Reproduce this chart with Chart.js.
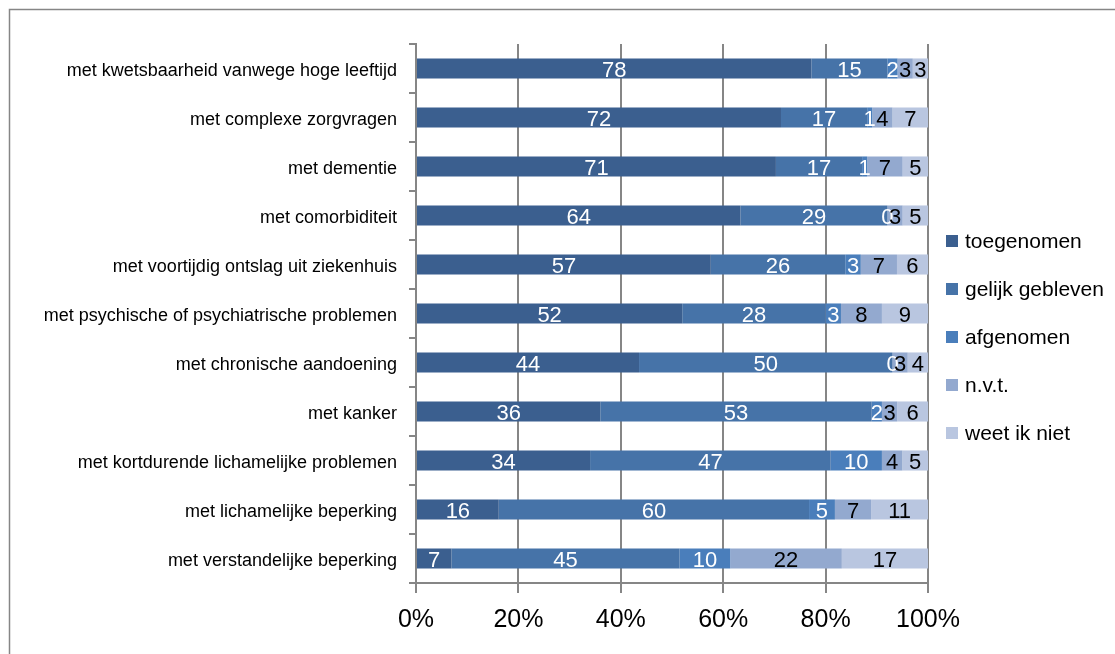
<!DOCTYPE html>
<html>
<head>
<meta charset="utf-8">
<script src="https://cdn.jsdelivr.net/npm/chart.js@4/dist/chart.umd.min.js"></script>
<style>
    html, body { margin: 0; padding: 0; background: #fff; }
    #wrap { width: 1115px; height: 654px; position: relative; }
</style>
</head>
<body>
<div id="wrap"><canvas id="chart" width="1115" height="654"></canvas></div>
<script>
const categories = [
    "met kwetsbaarheid vanwege hoge leeftijd",
    "met complexe zorgvragen",
    "met dementie",
    "met comorbiditeit",
    "met voortijdig ontslag uit ziekenhuis",
    "met psychische of psychiatrische problemen",
    "met chronische aandoening",
    "met kanker",
    "met kortdurende lichamelijke problemen",
    "met lichamelijke beperking",
    "met verstandelijke beperking"
];
const seriesNames = ["toegenomen", "gelijk gebleven", "afgenomen", "n.v.t.", "weet ik niet"];
const toegenomen = [78, 72, 71, 64, 57, 52, 44, 36, 34, 16, 7];
const gelijkGebleven = [15, 17, 17, 29, 26, 28, 50, 53, 47, 60, 45];
const afgenomen = [2, 1, 1, 0, 3, 3, 0, 2, 10, 5, 10];
const nvt = [3, 4, 7, 3, 7, 8, 3, 3, 4, 7, 22];
const weetIkNiet = [3, 7, 5, 5, 6, 9, 4, 6, 5, 11, 17];
const xTicks = ["0%", "20%", "40%", "60%", "80%", "100%"];

const colors = ["#3b5f8f", "#4673a8", "#4a7ebb", "#93a9cf", "#b9c6e0"];
const labelColors = ["#fff", "#fff", "#fff", "#000", "#000"];
const raw = [toegenomen, gelijkGebleven, afgenomen, nvt, weetIkNiet];

// 100% stacked: scale every row to its own total
const totals = categories.map((c, i) => raw.reduce((s, arr) => s + arr[i], 0));
const datasets = raw.map((arr, k) => ({
    label: seriesNames[k],
    data: arr.map((v, i) => v / totals[i] * 100),
    rawValues: arr,
    backgroundColor: colors[k],
    borderWidth: 0,
    barPercentage: 0.41,
    categoryPercentage: 1
}));

const FONT = "'Liberation Sans', 'DejaVu Sans', sans-serif";

// Values inside the bars, the legend and the outer frame
const extras = {
    id: "extras",
    afterDatasetsDraw(chart) {
        const ctx = chart.ctx;
        ctx.save();
        ctx.font = "22px " + FONT;
        ctx.textAlign = "center";
        ctx.textBaseline = "middle";
        chart.data.datasets.forEach((ds, k) => {
            chart.getDatasetMeta(k).data.forEach((bar, i) => {
                const mid = (bar.x + bar.base) / 2;
                ctx.fillStyle = labelColors[k];
                ctx.fillText(String(ds.rawValues[i]), mid, bar.y + 2);
            });
        });
        ctx.restore();
    },
    afterDraw(chart) {
        const ctx = chart.ctx;
        ctx.save();
        // legend
        ctx.font = "21px " + FONT;
        ctx.textBaseline = "middle";
        ctx.textAlign = "left";
        seriesNames.forEach((name, k) => {
            const y = 241 + k * 48;
            ctx.fillStyle = colors[k];
            ctx.fillRect(946, y - 6, 12, 12);
            ctx.fillStyle = "#000";
            ctx.fillText(name, 965, y + 1);
        });
        // frame
        ctx.strokeStyle = "#868686";
        ctx.lineWidth = 1.5;
        ctx.strokeRect(9.5, 9.5, 1200, 800);
        ctx.restore();
    }
};

new Chart(document.getElementById("chart"), {
    type: "bar",
    data: { labels: categories, datasets: datasets },
    options: {
        indexAxis: "y",
        responsive: false,
        animation: false,
        layout: { padding: { left: 0, right: 187, top: 44, bottom: 0 } },
        plugins: { legend: { display: false }, tooltip: { enabled: false } },
        scales: {
            x: {
                stacked: true,
                min: 0,
                max: 100,
                afterFit(scale) { scale.height = 654 - 583; },
                grid: { color: "#868686", lineWidth: 2, tickLength: 10, drawTicks: true },
                border: { color: "#868686", width: 2 },
                ticks: {
                    stepSize: 20,
                    padding: 12,
                    color: "#000",
                    font: { family: FONT, size: 25 },
                    callback: (v) => xTicks[v / 20]
                }
            },
            y: {
                stacked: true,
                afterFit(scale) { scale.width = 416; },
                grid: { display: true, drawOnChartArea: false, offset: true, color: "#868686", lineWidth: 2, tickLength: 7 },
                border: { color: "#868686", width: 2 },
                ticks: {
                    padding: 12,
                    labelOffset: 3,
                    color: "#000",
                    font: { family: FONT, size: 18 }
                }
            }
        }
    },
    plugins: [extras]
});
</script>
</body>
</html>
